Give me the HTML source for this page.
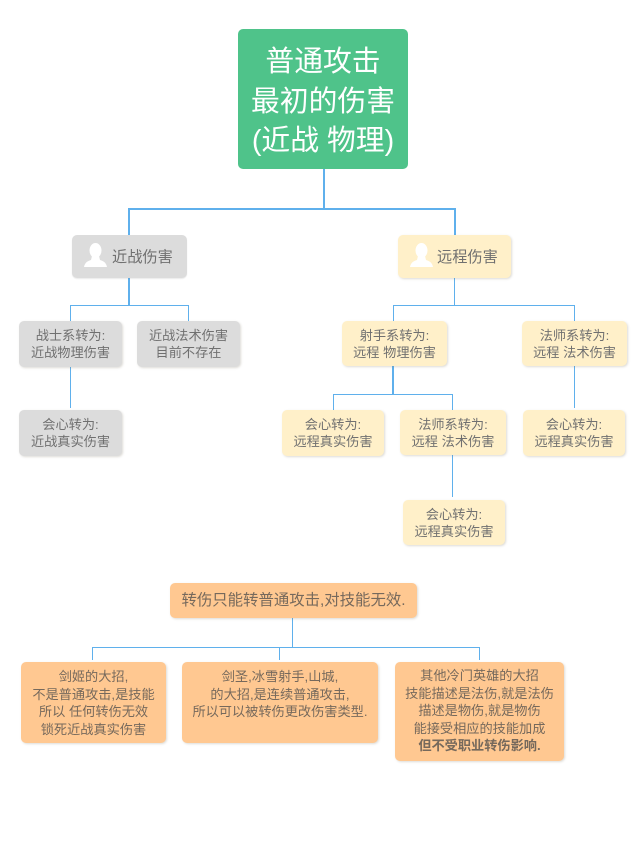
<!DOCTYPE html>
<html lang="zh">
<head>
<meta charset="utf-8">
<style>
html,body{margin:0;padding:0;background:#fff;}
#c{position:relative;width:642px;height:844px;overflow:hidden;background:#fff;font-family:"Liberation Sans","Noto Sans CJK SC",sans-serif;}
.b{position:absolute;box-sizing:border-box;border-radius:5px;text-align:center;color:#707070;font-size:13.2px;line-height:17px;white-space:nowrap;box-shadow:1px 1px 2px rgba(120,110,90,.25);}
.g{background:#dcdcdc;}
.y{background:#fff0c9;}
.o{background:#ffc891;color:#76695c;}
.l{position:absolute;background:#5fb0ec;}
svg{position:absolute;}
</style>
</head>
<body>
<div id="c">
<!-- root connectors -->
<div class="l" style="left:323px;top:169px;width:2px;height:41px"></div>
<div class="l" style="left:128px;top:208px;width:328px;height:2px"></div>
<div class="l" style="left:128px;top:208px;width:2px;height:28px"></div>
<div class="l" style="left:454px;top:208px;width:2px;height:28px"></div>
<!-- melee connectors -->
<div class="l" style="left:128px;top:278px;width:2px;height:27px"></div>
<div class="l" style="left:70px;top:305px;width:119px;height:1px"></div>
<div class="l" style="left:70px;top:305px;width:1px;height:16px"></div>
<div class="l" style="left:188px;top:305px;width:1px;height:16px"></div>
<div class="l" style="left:70px;top:367px;width:1px;height:41px"></div>
<!-- ranged connectors -->
<div class="l" style="left:454px;top:278px;width:1px;height:27px"></div>
<div class="l" style="left:393px;top:305px;width:182px;height:1px"></div>
<div class="l" style="left:393px;top:305px;width:1px;height:16px"></div>
<div class="l" style="left:574px;top:305px;width:1px;height:16px"></div>
<div class="l" style="left:392px;top:366px;width:2px;height:28px"></div>
<div class="l" style="left:333px;top:394px;width:120px;height:1px"></div>
<div class="l" style="left:333px;top:394px;width:1px;height:16px"></div>
<div class="l" style="left:452px;top:394px;width:1px;height:16px"></div>
<div class="l" style="left:574px;top:366px;width:1px;height:42px"></div>
<div class="l" style="left:452px;top:455px;width:1px;height:42px"></div>
<!-- note connectors -->
<div class="l" style="left:292px;top:618px;width:1px;height:29px"></div>
<div class="l" style="left:92px;top:647px;width:388px;height:1px"></div>
<div class="l" style="left:92px;top:647px;width:1px;height:13px"></div>
<div class="l" style="left:279px;top:647px;width:1px;height:13px"></div>
<div class="l" style="left:479px;top:647px;width:1px;height:13px"></div>

<!-- root -->
<div class="b" style="left:238px;top:29px;width:170px;height:140px;background:#4fc38a;color:#fff;font-size:28.8px;line-height:39.5px;padding-top:14px;box-shadow:none">普通攻击<br>最初的伤害<br>(近战 物理)</div>

<!-- level 2 -->
<div class="b g" style="left:72px;top:235px;width:115px;height:43px;font-size:15.2px;line-height:46px;padding-left:40px;text-align:left;box-shadow:0 1px 1px rgba(120,120,120,.15)">近战伤害</div>
<svg style="left:84px;top:243px" width="23" height="25" viewBox="0 0 23 25"><ellipse cx="11.5" cy="7.5" rx="6" ry="7.5" fill="#fff"/><path d="M8 13 L15 13 L16 17 C19 18 22 19 23 24 L0 24 C1 19 4 18 7 17 Z" fill="#fff"/></svg>
<div class="b y" style="left:398px;top:235px;width:113px;height:43px;font-size:15.2px;line-height:46px;padding-left:39px;text-align:left">远程伤害</div>
<svg style="left:410px;top:243px" width="23" height="25" viewBox="0 0 23 25"><ellipse cx="11.5" cy="7.5" rx="6" ry="7.5" fill="#fff"/><path d="M8 13 L15 13 L16 17 C19 18 22 19 23 24 L0 24 C1 19 4 18 7 17 Z" fill="#fff"/></svg>

<!-- melee nodes -->
<div class="b g" style="left:19px;top:321px;width:103px;height:46px;padding-top:6px">战士系转为:<br>近战物理伤害</div>
<div class="b g" style="left:137px;top:321px;width:103px;height:46px;padding-top:6px">近战法术伤害<br>目前不存在</div>
<div class="b g" style="left:19px;top:410px;width:103px;height:46px;padding-top:6px">会心转为:<br>近战真实伤害</div>

<!-- ranged nodes -->
<div class="b y" style="left:342px;top:321px;width:105px;height:45px;padding-top:6px">射手系转为:<br>远程 物理伤害</div>
<div class="b y" style="left:522px;top:321px;width:105px;height:45px;padding-top:6px">法师系转为:<br>远程 法术伤害</div>
<div class="b y" style="left:282px;top:410px;width:102px;height:46px;padding-top:6px">会心转为:<br>远程真实伤害</div>
<div class="b y" style="left:400px;top:410px;width:106px;height:45px;padding-top:6px">法师系转为:<br>远程 法术伤害</div>
<div class="b y" style="left:523px;top:410px;width:102px;height:46px;padding-top:6px">会心转为:<br>远程真实伤害</div>
<div class="b y" style="left:403px;top:500px;width:102px;height:45px;padding-top:6px">会心转为:<br>远程真实伤害</div>

<!-- notes -->
<div class="b o" style="left:170px;top:583px;width:247px;height:35px;font-size:15.4px;line-height:36px">转伤只能转普通攻击,对技能无效.</div>
<div class="b o" style="left:21px;top:662px;width:145px;height:81px;padding-top:6px;line-height:17.5px">剑姬的大招,<br>不是普通攻击,是技能<br>所以 任何转伤无效<br>锁死近战真实伤害</div>
<div class="b o" style="left:182px;top:662px;width:196px;height:81px;padding-top:6px;line-height:17.5px">剑圣,冰雪射手,山城,<br>的大招,是连续普通攻击,<br>所以可以被转伤更改伤害类型.</div>
<div class="b o" style="left:395px;top:662px;width:169px;height:99px;padding-top:5px;line-height:17.5px">其他冷门英雄的大招<br>技能描述是法伤,就是法伤<br>描述是物伤,就是物伤<br>能接受相应的技能加成<br><b>但不受职业转伤影响.</b></div>
</div>
</body>
</html>
